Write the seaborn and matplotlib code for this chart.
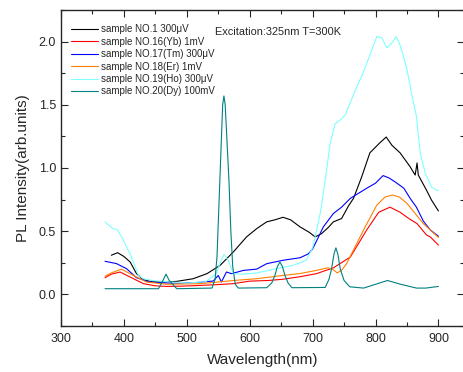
import numpy as np
import pandas as pd
import matplotlib
matplotlib.use("Agg")
import matplotlib.pyplot as plt
from matplotlib.ticker import MultipleLocator
import seaborn as sns

# values
labels = ["sample NO.1 300μV", "sample NO.16(Yb) 1mV", "sample NO.17(Tm) 300μV",
          "sample NO.18(Er) 1mV", "sample NO.19(Ho) 300μV", "sample NO.20(Dy) 100mV"]
colors = ["black", "red", "blue", "#ff8000", "#7fffff", "#008080"]

wl_no1 = [380, 390, 400, 410, 420, 431, 445, 460, 484, 510, 532, 553, 574, 595, 611, 627, 640, 653,
          665, 680, 695, 704, 714, 725, 733, 746, 757, 765, 778, 791, 807, 817, 826, 839, 855, 863,
          866, 868, 881, 889, 900]
pl_no1 = [0.31, 0.33, 0.30, 0.256, 0.164, 0.116, 0.10, 0.098, 0.103, 0.124, 0.164, 0.23, 0.336,
          0.455, 0.52, 0.574, 0.59, 0.61, 0.59, 0.534, 0.49, 0.455, 0.48, 0.53, 0.574, 0.6, 0.70,
          0.76, 0.93, 1.12, 1.2, 1.245, 1.18, 1.12, 1.01, 0.944, 1.04, 0.944, 0.825, 0.746, 0.66]

wl_no16 = [370, 380, 394, 410, 431, 450, 468, 490, 521, 550, 574, 600, 630, 653, 680, 706, 733,
           760, 786, 805, 823, 839, 853, 866, 881, 887, 900]
pl_no16 = [0.132, 0.16, 0.177, 0.137, 0.085, 0.068, 0.063, 0.065, 0.071, 0.078, 0.085, 0.105, 0.11,
           0.12, 0.14, 0.164, 0.21, 0.296, 0.51, 0.65, 0.69, 0.65, 0.6, 0.56, 0.47, 0.455, 0.39]

wl_no17 = [370, 388, 404, 420, 441, 470, 494, 520, 542, 550, 555, 563, 571, 590, 611, 627, 653,
           680, 693, 700, 707, 717, 733, 746, 760, 786, 800, 812, 822, 834, 845, 855, 865, 876,
           887, 900]
pl_no17 = [0.262, 0.244, 0.204, 0.132, 0.098, 0.09, 0.09, 0.095, 0.106, 0.15, 0.098, 0.177, 0.164,
           0.19, 0.2, 0.243, 0.27, 0.29, 0.32, 0.36, 0.43, 0.534, 0.64, 0.69, 0.76, 0.84, 0.88,
           0.94, 0.92, 0.88, 0.84, 0.76, 0.69, 0.58, 0.51, 0.46]

wl_no18 = [370, 380, 396, 415, 436, 468, 500, 521, 550, 574, 611, 653, 680, 706, 724, 732, 739,
           746, 754, 781, 802, 815, 827, 838, 850, 876, 887, 900]
pl_no18 = [0.144, 0.17, 0.2, 0.15, 0.098, 0.08, 0.083, 0.085, 0.098, 0.11, 0.124, 0.15, 0.165,
           0.19, 0.21, 0.2, 0.17, 0.19, 0.243, 0.51, 0.706, 0.77, 0.786, 0.77, 0.72, 0.56, 0.51, 0.45]

wl_no19 = [370, 375, 383, 390, 399, 412, 423, 431, 445, 470, 500, 530, 547, 553, 559, 566, 574,
           590, 611, 630, 648, 669, 690, 700, 706, 712, 720, 728, 736, 744, 752, 760, 770, 780,
           790, 802, 810, 818, 826, 833, 840, 850, 858, 865, 871, 879, 889, 897, 900]
pl_no19 = [0.574, 0.55, 0.52, 0.51, 0.43, 0.296, 0.15, 0.124, 0.11, 0.10, 0.09, 0.10, 0.164, 0.25,
           0.317, 0.27, 0.164, 0.16, 0.17, 0.19, 0.21, 0.23, 0.27, 0.37, 0.5, 0.64, 0.9, 1.2, 1.35,
           1.38, 1.42, 1.52, 1.64, 1.75, 1.88, 2.04, 2.03, 1.95, 1.99, 2.04, 1.96, 1.78, 1.57, 1.41,
           1.12, 0.96, 0.85, 0.825, 0.82]

wl_no20 = [370, 455, 462, 467, 472, 484, 540, 545, 548, 551, 554, 557, 559, 561, 564, 567, 570,
           573, 577, 582, 627, 635, 640, 644, 648, 652, 656, 661, 667, 720, 726, 730, 734, 737,
           740, 744, 750, 759, 781, 800, 819, 840, 865, 880, 900]
pl_no20 = [0.045, 0.045, 0.11, 0.16, 0.11, 0.045, 0.05, 0.12, 0.3, 0.7, 1.1, 1.5, 1.57, 1.5, 1.2,
           0.9, 0.5, 0.22, 0.08, 0.05, 0.053, 0.09, 0.15, 0.22, 0.256, 0.22, 0.15, 0.09, 0.053,
           0.055, 0.12, 0.2, 0.32, 0.368, 0.32, 0.2, 0.11, 0.06, 0.05, 0.08, 0.11, 0.08, 0.05,
           0.05, 0.063]

series = [(wl_no1, pl_no1), (wl_no16, pl_no16), (wl_no17, pl_no17),
          (wl_no18, pl_no18), (wl_no19, pl_no19), (wl_no20, pl_no20)]

sns.set_style("ticks")
plt.rcParams['font.family'] = ['Liberation Sans', 'DejaVu Sans']

fig = plt.figure(figsize=(4.64, 3.72), dpi=100)
ax = fig.add_axes([61 / 464, 46 / 372, 402.6 / 464, 316 / 372])

for (wl, pl), lab, col in zip(series, labels, colors):
    sns.lineplot(x=wl, y=pl, ax=ax, color=col, linewidth=0.8, label=lab, estimator=None, sort=False)

ax.set_xlim(300, 940)
ax.set_ylim(-0.25, 2.25)
ax.xaxis.set_major_locator(MultipleLocator(100))
ax.xaxis.set_minor_locator(MultipleLocator(50))
ax.yaxis.set_major_locator(MultipleLocator(0.5))
ax.yaxis.set_minor_locator(MultipleLocator(0.25))
ax.tick_params(which='both', direction='in', top=True, right=True, labelsize=9, width=0.8)
ax.tick_params(which='major', length=5)
ax.tick_params(which='minor', length=3)
ax.tick_params(axis='x', pad=5)
ax.yaxis.set_major_formatter(matplotlib.ticker.FormatStrFormatter('%.1f'))
for s in ax.spines.values():
    s.set_linewidth(1.0)

ax.set_xlabel('Wavelength(nm)', fontsize=11, labelpad=6)
ax.set_ylabel('PL Intensity(arb.units)', fontsize=11, labelpad=6)

ax.legend(loc='upper left', bbox_to_anchor=(0.025, 0.955), frameon=False, fontsize=7,
          handlelength=2.8, handletextpad=0.3, labelspacing=0.25, borderaxespad=0, borderpad=0)
ax.text(0.383, 0.93, 'Excitation:325nm T=300K', transform=ax.transAxes, fontsize=7.9, va='center')

fig.savefig('out.png', dpi=100)
